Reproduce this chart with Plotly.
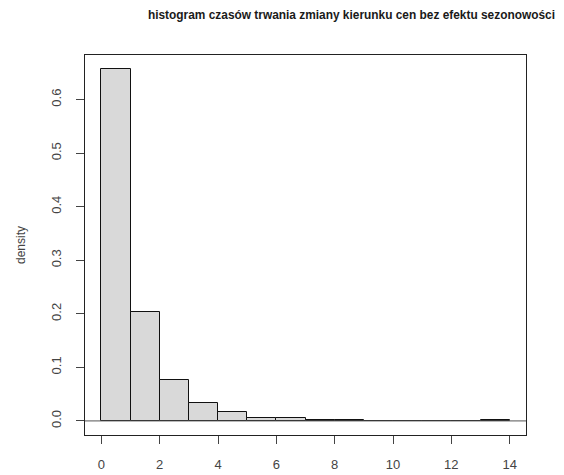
import plotly.graph_objects as go

bin_left = [0, 1, 2, 3, 4, 5, 6, 7, 8, 9, 10, 11, 12, 13]
density = [0.657, 0.204, 0.077, 0.034, 0.016, 0.006, 0.005, 0.002, 0.002, 0, 0, 0, 0, 0.002]
x_ticks = [0, 2, 4, 6, 8, 10, 12, 14]
y_ticks = [0.0, 0.1, 0.2, 0.3, 0.4, 0.5, 0.6]
y_tick_labels = ["0.0", "0.1", "0.2", "0.3", "0.4", "0.5", "0.6"]
title = "histogram czasów trwania zmiany kierunku cen bez efektu sezonowości"

centers = [b + 0.5 for b in bin_left]

fig = go.Figure()
fig.add_trace(go.Bar(
    x=centers, y=density, width=1,
    marker=dict(color="#d9d9d9", line=dict(color="#111111", width=1)),
    hoverinfo="x+y",
))

fig.add_shape(type="line", xref="paper", yref="y", x0=0, x1=1, y0=0, y1=0,
              line=dict(color="#555555", width=1))

fig.update_layout(
    width=564, height=475,
    margin=dict(l=77, r=46, t=47, b=48),
    plot_bgcolor="white", paper_bgcolor="white",
    showlegend=False,
    bargap=0,
    title=dict(text="<b>" + title + "</b>", xref="container", x=0.609, xanchor="center",
               yref="container", y=0.985, yanchor="middle",
               font=dict(family="Liberation Sans", size=11.9, color="#1a1a1a")),
    font=dict(family="Liberation Sans", color="#444444"),
    xaxis=dict(range=[-0.56, 14.56], tickvals=x_ticks, ticks="outside", ticklen=8,
               tickcolor="#444444", showline=True, linecolor="#222222", linewidth=1,
               mirror=True, showgrid=False, zeroline=False,
               tickfont=dict(size=13, color="#444444"), ticklabelstandoff=9),
    yaxis=dict(range=[-0.0263, 0.6833], tickvals=y_ticks, ticktext=y_tick_labels,
               ticks="outside", ticklen=8, tickcolor="#444444", showline=True,
               linecolor="#222222", linewidth=1, mirror=True, showgrid=False,
               zeroline=False, tickangle=-90,
               tickfont=dict(size=13, color="#444444"), ticklabelstandoff=10,
               title=dict(text="density", font=dict(size=12, color="#444444"), standoff=20)),
)

fig.write_html("out.html")
